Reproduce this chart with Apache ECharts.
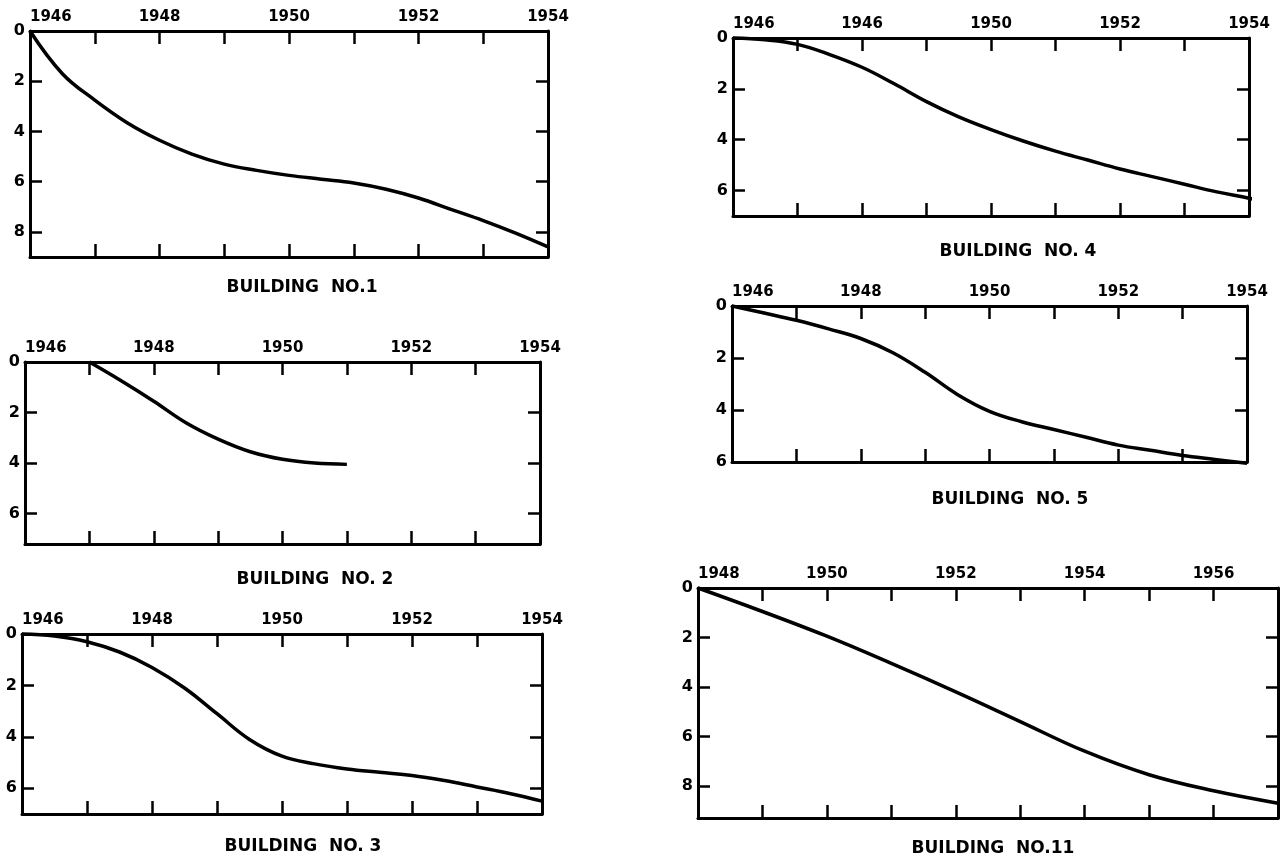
<!DOCTYPE html>
<html>
<head>
<meta charset="utf-8">
<style>
  html, body { margin: 0; padding: 0; background: #fff; }
  #chart { width: 1285px; height: 856px; }
</style>
<script src="https://cdn.jsdelivr.net/npm/echarts@6/dist/echarts.min.js"></script>
</head>
<body>
<div id="chart"></div>
<script>
// ---------- DATA ----------
// Building No.1
const b1Years = [1946, 1946.5, 1947, 1947.5, 1948, 1948.5, 1949, 1949.5, 1950, 1950.5, 1951, 1951.5, 1952, 1952.5, 1953, 1953.5, 1954];
const b1Settle = [0, 1.7, 2.75, 3.65, 4.35, 4.9, 5.3, 5.55, 5.75, 5.9, 6.05, 6.3, 6.65, 7.1, 7.55, 8.05, 8.6];
const b1TickYears = [1946, 1948, 1950, 1952, 1954];
const b1TickLabels = ['1946', '1948', '1950', '1952', '1954'];

// Building No.2
const b2Years = [1947, 1947.5, 1948, 1948.5, 1949, 1949.5, 1950, 1950.5, 1951];
const b2Settle = [0, 0.75, 1.55, 2.4, 3.05, 3.55, 3.85, 4.0, 4.05];
const b2TickYears = [1946, 1948, 1950, 1952, 1954];
const b2TickLabels = ['1946', '1948', '1950', '1952', '1954'];

// Building No.3
const b3Years = [1946, 1946.5, 1947, 1947.5, 1948, 1948.5, 1949, 1949.5, 1950, 1950.5, 1951, 1951.5, 1952, 1952.5, 1953, 1953.5, 1954];
const b3Settle = [0, 0.08, 0.3, 0.7, 1.3, 2.1, 3.1, 4.1, 4.75, 5.05, 5.25, 5.38, 5.5, 5.7, 5.95, 6.2, 6.5];
const b3TickYears = [1946, 1948, 1950, 1952, 1954];
const b3TickLabels = ['1946', '1948', '1950', '1952', '1954'];

// Building No.4 (second label printed as "1946" in the original)
const b4Years = [1946, 1946.5, 1947, 1947.5, 1948, 1948.5, 1949, 1949.5, 1950, 1950.5, 1951, 1951.5, 1952, 1952.5, 1953, 1953.5, 1954, 1954.2];
const b4Settle = [0, 0.07, 0.25, 0.65, 1.15, 1.8, 2.5, 3.1, 3.6, 4.05, 4.45, 4.8, 5.15, 5.45, 5.75, 6.05, 6.3, 6.42];
const b4TickYears = [1946, 1948, 1950, 1952, 1954];
const b4TickLabels = ['1946', '1946', '1950', '1952', '1954'];

// Building No.5
const b5Years = [1946, 1946.5, 1947, 1947.5, 1948, 1948.5, 1949, 1949.5, 1950, 1950.5, 1951, 1951.5, 1952, 1952.5, 1953, 1953.5, 1954];
const b5Settle = [0, 0.27, 0.55, 0.88, 1.25, 1.8, 2.55, 3.4, 4.05, 4.45, 4.75, 5.05, 5.35, 5.55, 5.75, 5.9, 6.05];
const b5TickYears = [1946, 1948, 1950, 1952, 1954];
const b5TickLabels = ['1946', '1948', '1950', '1952', '1954'];

// Building No.11
const b11Years = [1948, 1949, 1950, 1951, 1952, 1953, 1954, 1955, 1956, 1957];
const b11Settle = [0, 0.95, 1.95, 3.05, 4.2, 5.4, 6.6, 7.55, 8.2, 8.7];
const b11TickYears = [1948, 1950, 1952, 1954, 1956];
const b11TickLabels = ['1948', '1950', '1952', '1954', '1956'];

const titles = ['BUILDING  NO.1', 'BUILDING  NO. 2', 'BUILDING  NO. 3', 'BUILDING  NO. 4', 'BUILDING  NO. 5', 'BUILDING  NO.11'];

// ---------- LAYOUT (positions / styles) ----------
const panels = [
  { years: b1Years, vals: b1Settle, ty: b1TickYears, tl: b1TickLabels, xMin: 1946, xMax: 1954, yMax: 9,
    left: 30, top: 31, width: 518, height: 226, titleX: 297, titleY: 274 },
  { years: b2Years, vals: b2Settle, ty: b2TickYears, tl: b2TickLabels, xMin: 1946, xMax: 1954, yMax: 7.2,
    left: 25, top: 362, width: 515, height: 182, titleX: 310, titleY: 566 },
  { years: b3Years, vals: b3Settle, ty: b3TickYears, tl: b3TickLabels, xMin: 1946, xMax: 1954, yMax: 7,
    left: 22, top: 634, width: 520, height: 180, titleX: 298, titleY: 833 },
  { years: b4Years, vals: b4Settle, ty: b4TickYears, tl: b4TickLabels, xMin: 1946, xMax: 1954, yMax: 7,
    left: 733, top: 38, width: 516, height: 178, titleX: 1013, titleY: 238 },
  { years: b5Years, vals: b5Settle, ty: b5TickYears, tl: b5TickLabels, xMin: 1946, xMax: 1954, yMax: 6,
    left: 732, top: 306, width: 515, height: 156, titleX: 1005, titleY: 486 },
  { years: b11Years, vals: b11Settle, ty: b11TickYears, tl: b11TickLabels, xMin: 1948, xMax: 1957, yMax: 9.3,
    left: 698, top: 588, width: 580, height: 230, titleX: 988, titleY: 835 }
];

const FONT = 'DejaVu Sans';
const lineStyle = { color: '#000', width: 3 };
const tickStyle = { color: '#000', width: 2.5 };

const grid = [], xAxis = [], yAxis = [], series = [], title = [];

panels.forEach((p, i) => {
  grid.push({ left: p.left, top: p.top, width: p.width, height: p.height, containLabel: false });
  const labelMap = {};
  p.ty.forEach((y, k) => { labelMap[y] = p.tl[k]; });
  // top axis with year labels
  xAxis.push({
    type: 'value', gridIndex: i, position: 'top', min: p.xMin, max: p.xMax, interval: 1,
    axisLine: { show: true, onZero: false, lineStyle: lineStyle },
    axisTick: { show: true, inside: true, length: 13, lineStyle: tickStyle },
    splitLine: { show: false },
    axisLabel: {
      show: true, margin: 6, color: '#000', fontFamily: FONT, fontWeight: 'bold', fontSize: 15,
      alignMinLabel: 'left',
      formatter: v => labelMap[Math.round(v)] !== undefined && Math.abs(v - Math.round(v)) < 1e-6 ? labelMap[Math.round(v)] : ''
    }
  });
  // bottom axis (ticks only)
  xAxis.push({
    type: 'value', gridIndex: i, position: 'bottom', min: p.xMin, max: p.xMax, interval: 1,
    axisLine: { show: true, onZero: false, lineStyle: lineStyle },
    axisTick: { show: true, inside: true, length: 13, lineStyle: tickStyle },
    splitLine: { show: false },
    axisLabel: { show: false }
  });
  // left axis with labels
  yAxis.push({
    type: 'value', gridIndex: i, position: 'left', inverse: true, min: 0, max: p.yMax, interval: 2,
    axisLine: { show: true, onZero: false, lineStyle: lineStyle },
    axisTick: { show: true, inside: true, length: 12, lineStyle: tickStyle },
    splitLine: { show: false },
    axisLabel: {
      show: true, margin: 5, color: '#000', fontFamily: FONT, fontWeight: 'bold', fontSize: 16,
      formatter: v => (Math.abs(v % 2) < 1e-6 ? String(v) : '')
    }
  });
  // right axis (ticks only)
  yAxis.push({
    type: 'value', gridIndex: i, position: 'right', inverse: true, min: 0, max: p.yMax, interval: 2,
    axisLine: { show: true, onZero: false, lineStyle: lineStyle },
    axisTick: { show: true, inside: true, length: 12, lineStyle: tickStyle },
    splitLine: { show: false },
    axisLabel: { show: false }
  });
  series.push({
    type: 'line', xAxisIndex: 2 * i, yAxisIndex: 2 * i,
    data: p.years.map((y, k) => [y, p.vals[k]]),
    smooth: 0.4, showSymbol: false, clip: false,
    lineStyle: { color: '#000', width: 3.5 }, silent: true, animation: false
  });
  title.push({
    text: titles[i], left: p.titleX, top: p.titleY, textAlign: 'center',
    textStyle: { color: '#000', fontFamily: FONT, fontWeight: 'bold', fontSize: 17 }
  });
});

const chart = echarts.init(document.getElementById('chart'), null, { renderer: 'canvas' });
chart.setOption({
  backgroundColor: '#fff',
  animation: false,
  title: title,
  grid: grid,
  xAxis: xAxis,
  yAxis: yAxis,
  series: series
});
</script>
</body>
</html>
